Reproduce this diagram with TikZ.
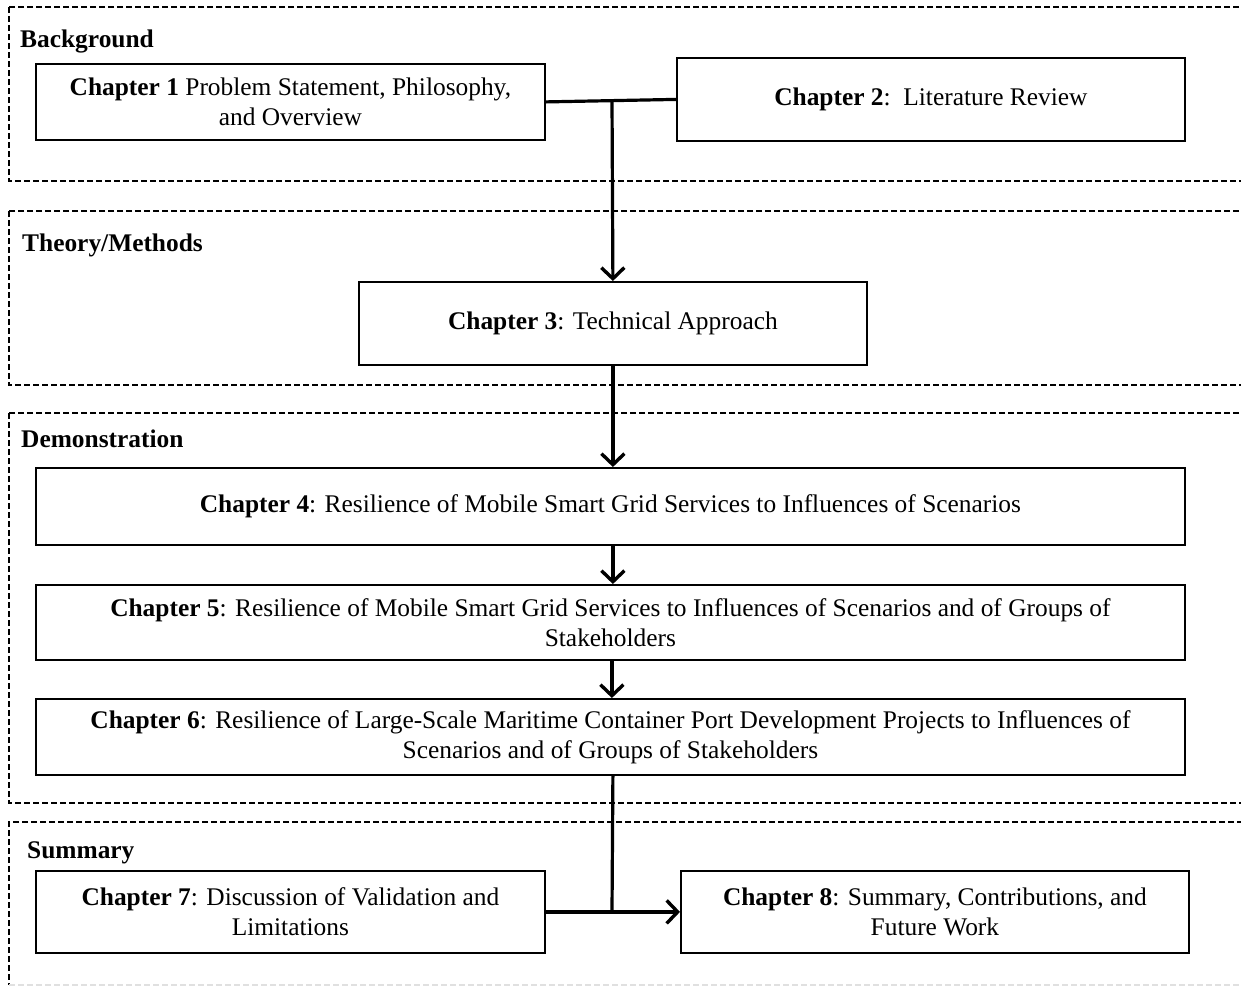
\documentclass[tikz,border=0pt]{standalone}
\usepackage{fontspec}
\setmainfont{Liberation Serif}
\usetikzlibrary{arrows.meta}
\begin{document}
\begin{tikzpicture}[x=1pt,y=-1pt,
  panel/.style={draw, line width=1.4pt, dash pattern=on 6pt off 3pt},
  chbox/.style={draw, line width=1.8pt, anchor=north west, align=center,
    inner sep=0pt, font=\fontsize{25.4}{30}\selectfont},
  plabel/.style={anchor=base west, inner sep=0pt, font=\fontsize{25.4}{30}\selectfont\bfseries},
  link/.style={line width=3.2pt},
  flow/.style={link, -{Straight Barb[length=11pt,width=23pt,line width=3.4pt]}}]
\useasboundingbox (0,0) rectangle (1241,986);

% dashed section frames
\draw[panel] (9,7) rectangle (1260,181);
\draw[panel] (9,211) rectangle (1260,385);
\draw[panel] (9,413) rectangle (1260,803);
\draw[panel] (1260,985) -- (1260,822) -- (9,822) -- (9,985);
\draw[panel, black!12] (9,985) -- (1260,985);

% section titles
\node[plabel] (tbg) at (20,47) {Background};
\node[plabel] (ttm) at (22,251) {Theory/Methods};
\node[plabel] (tdm) at (21,447) {Demonstration};
\node[plabel] (tsm) at (27,858) {Summary};

% chapter boxes
\node[chbox, minimum width=509pt, minimum height=76pt] (ch1) at (35,63)
  {\textbf{Chapter 1} Problem Statement, Philosophy,\\and Overview};
\node[chbox, minimum width=508pt, minimum height=83pt] (ch2) at (676,57)
  {\textbf{Chapter 2}:\ \ Literature Review};
\node[chbox, minimum width=508pt, minimum height=83pt] (ch3) at (358,281)
  {\textbf{Chapter 3}: Technical Approach};
\node[chbox, minimum width=1149pt, minimum height=77pt] (ch4) at (35,467)
  {\textbf{Chapter 4}: Resilience of Mobile Smart Grid Services to Influences of Scenarios};
\node[chbox, minimum width=1149pt, minimum height=75pt] (ch5) at (35,584)
  {\textbf{Chapter 5}: Resilience of Mobile Smart Grid Services to Influences of Scenarios and of Groups of\\Stakeholders};
\node[chbox, minimum width=1149pt, minimum height=76pt] (ch6) at (35,698)
  {\textbf{Chapter 6}: Resilience of Large-Scale Maritime Container Port Development Projects to Influences of\\Scenarios and of Groups of Stakeholders};
\node[chbox, minimum width=509pt, minimum height=82pt] (ch7) at (35,870)
  {\textbf{Chapter 7}: Discussion of Validation and\\Limitations};
\node[chbox, minimum width=508pt, minimum height=82pt] (ch8) at (680,870)
  {\textbf{Chapter 8}: Summary, Contributions, and\\Future Work};

% connectors
\coordinate (j12) at (612,100);
\coordinate (j78) at (612,911);
\draw[link] (ch1.east) -- (ch2.west);
\draw[flow] (j12) -- (ch3.north);
\draw[flow] (ch3.south) -- (ch4.north -| ch3.south);
\draw[flow] (ch4.south -| ch3.south) -- (ch5.north -| ch3.south);
\draw[flow] ([xshift=-1pt]ch5.south -| ch3.south) -- ([xshift=-1pt]ch6.north -| ch3.south);
\draw[link] (ch6.south -| ch3.south) -- (j78);
\draw[flow] (ch7.east) -- (ch8.west);
\end{tikzpicture}
\end{document}
